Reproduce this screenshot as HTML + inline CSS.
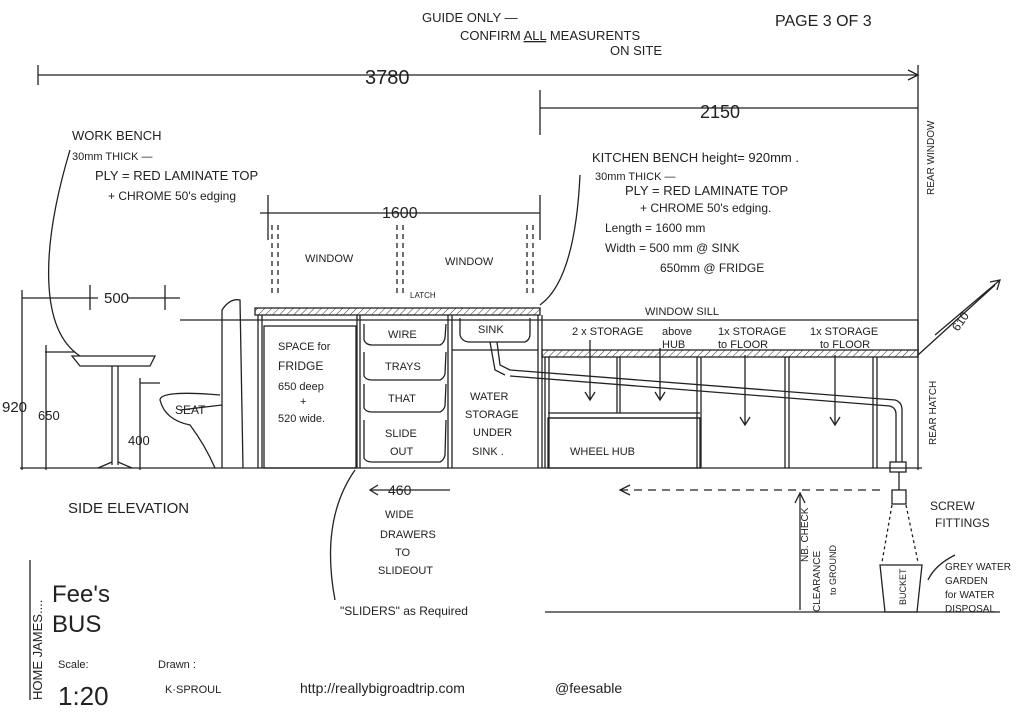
<!DOCTYPE html>
<html><head><meta charset="utf-8"><style>
html,body{margin:0;padding:0;background:#fff}
svg{display:block}
text{font-family:"Liberation Sans",sans-serif;fill:#222}
</style></head><body>
<svg width="1024" height="719" viewBox="0 0 1024 719" xmlns="http://www.w3.org/2000/svg">
<defs>
<pattern id="h" width="5" height="5" patternUnits="userSpaceOnUse" patternTransform="rotate(45)"><line x1="0" y1="0" x2="0" y2="5" stroke="#333" stroke-width="1"/></pattern>
</defs>
<g stroke="#222" stroke-width="1.3" fill="none">
<line x1="38" y1="75" x2="918" y2="75"/>
<path d="M908 70 L918 75 L908 80"/>
<line x1="38" y1="65" x2="38" y2="85"/>
<line x1="540" y1="108" x2="918" y2="108"/>
<line x1="540" y1="90" x2="540" y2="135"/>
<line x1="918" y1="65" x2="918" y2="470"/>
<line x1="260" y1="213" x2="540" y2="213"/>
<line x1="268" y1="195" x2="268" y2="240"/>
<line x1="540" y1="195" x2="540" y2="240"/>
<g stroke-dasharray="5,4"><line x1="272" y1="225" x2="272" y2="295"/><line x1="278" y1="225" x2="278" y2="295"/>
<line x1="397" y1="225" x2="397" y2="295"/><line x1="403" y1="225" x2="403" y2="295"/>
<line x1="527" y1="225" x2="527" y2="295"/><line x1="533" y1="225" x2="533" y2="295"/></g>
<line x1="20" y1="468" x2="922" y2="468"/>
<line x1="22" y1="298" x2="98" y2="298"/>
<line x1="128" y1="298" x2="180" y2="298"/>
<line x1="22" y1="290" x2="22" y2="470"/>
<line x1="45" y1="352" x2="75" y2="352"/>
<line x1="46" y1="345" x2="46" y2="470"/>
<line x1="140" y1="383" x2="160" y2="383"/>
<line x1="140" y1="378" x2="140" y2="470"/>
<line x1="90" y1="285" x2="90" y2="310"/><line x1="165" y1="285" x2="165" y2="310"/>
<path d="M70 150 C40 250 40 330 80 356"/>
<path d="M72 356 L155 356 L150 366 L80 366 Z"/>
<line x1="112" y1="366" x2="112" y2="465"/><line x1="118" y1="366" x2="118" y2="465"/>
<path d="M98 468 L112 462 M132 468 L118 462"/>
<path d="M222 468 L222 310 Q230 298 240 300 L243 468"/>
<path d="M220 395 Q160 390 160 400 Q165 420 190 425 Q205 445 215 468"/>
<line x1="180" y1="410" x2="222" y2="405"/>
<rect x="255" y="308" width="285" height="7" fill="url(#h)"/>
<line x1="180" y1="320" x2="918" y2="320"/>
<line x1="258" y1="315" x2="258" y2="468"/><line x1="262" y1="315" x2="262" y2="468"/>
<rect x="264" y="326" width="92" height="142"/>
<line x1="357" y1="315" x2="357" y2="468"/><line x1="360" y1="315" x2="360" y2="468"/>
<path d="M364 324 L364 340 Q366 345 372 345 L440 345 Q444 343 445 338 L446 324"/>
<path d="M364 352 L364 376 Q366 380 372 380 L440 380 Q444 378 445 374 L446 352"/>
<path d="M364 384 L364 408 Q366 412 372 412 L440 412 Q444 410 445 406 L446 384"/>
<path d="M364 420 L364 458 Q366 462 372 462 L440 462 Q444 460 445 455 L446 420"/>
<line x1="448" y1="315" x2="448" y2="468"/><line x1="452" y1="315" x2="452" y2="468"/>
<path d="M460 318 L460 335 Q462 342 470 342 L525 342 Q530 340 530 334 L530 318"/>
<line x1="452" y1="350" x2="538" y2="350"/>
<path d="M490 342 L495 370 L505 375 M497 342 L500 365 L510 370"/>
<line x1="538" y1="315" x2="538" y2="468"/><line x1="542" y1="315" x2="542" y2="468"/>
<rect x="542" y="350" width="376" height="7" fill="url(#h)"/>
<line x1="545" y1="357" x2="545" y2="468"/><line x1="549" y1="357" x2="549" y2="468"/>
<line x1="548" y1="413" x2="700" y2="413"/><line x1="548" y1="418" x2="700" y2="418"/>
<rect x="548" y="418" width="152" height="50"/>
<line x1="617" y1="357" x2="617" y2="413"/><line x1="620" y1="357" x2="620" y2="413"/>
<line x1="697" y1="357" x2="697" y2="468"/><line x1="701" y1="357" x2="701" y2="468"/>
<line x1="785" y1="357" x2="785" y2="468"/><line x1="789" y1="357" x2="789" y2="468"/>
<line x1="873" y1="357" x2="873" y2="468"/><line x1="877" y1="357" x2="877" y2="468"/>
<path d="M510 370 L895 400 Q902 402 902 410 L902 462 M510 376 L890 406 Q896 408 896 414 L896 462"/>
<rect x="890" y="462" width="16" height="10"/>
<rect x="892" y="490" width="14" height="14"/>
<line x1="899" y1="472" x2="899" y2="490"/>
<path d="M590 340 L590 400 M585 392 L590 400 L595 392"/>
<path d="M660 348 L660 400 M655 392 L660 400 L665 392"/>
<path d="M745 355 L745 425 M740 417 L745 425 L750 417"/>
<path d="M835 355 L835 425 M830 417 L835 425 L840 417"/>
<line x1="918" y1="355" x2="995" y2="285"/>
<line x1="918" y1="320" x2="918" y2="355"/>
<path d="M935 335 L1000 280 M990 282 L1000 280 L997 290"/>
<line x1="620" y1="490" x2="880" y2="490" stroke-dasharray="8,6"/>
<path d="M630 485 L620 490 L630 495"/>
<line x1="800" y1="495" x2="800" y2="610"/>
<path d="M795 503 L800 493 L805 503"/>
<line x1="545" y1="612" x2="1000" y2="612"/>
<path d="M880 565 L922 565 L917 612 L885 612 Z"/>
<path d="M892 505 L882 562 M906 505 L918 562" stroke-dasharray="3,3"/>
<path d="M580 175 Q575 280 540 305"/>
<path d="M955 555 Q935 565 928 580"/>
<path d="M355 470 Q320 520 335 600"/>
<line x1="370" y1="490" x2="450" y2="490"/>
<path d="M378 485 L370 490 L378 495"/>
<line x1="30" y1="560" x2="30" y2="700"/>
</g>
<g font-size="13">
<text x="422" y="22">GUIDE ONLY —</text>
<text x="460" y="40">CONFIRM <tspan text-decoration="underline">ALL</tspan> MEASURENTS</text>
<text x="610" y="55">ON SITE</text>
<text x="775" y="26" font-size="16">PAGE 3 OF 3</text>
<text x="365" y="84" font-size="20">3780</text>
<text x="700" y="118" font-size="18">2150</text>
<text x="382" y="218" font-size="16">1600</text>
<text x="72" y="140">WORK BENCH</text>
<text x="72" y="160" font-size="11">30mm THICK —</text>
<text x="95" y="180">PLY = RED LAMINATE TOP</text>
<text x="108" y="200" font-size="12">+ CHROME 50's edging</text>
<text x="592" y="162">KITCHEN BENCH height= 920mm .</text>
<text x="595" y="180" font-size="11">30mm THICK —</text>
<text x="625" y="195">PLY = RED LAMINATE TOP</text>
<text x="640" y="212" font-size="12">+ CHROME 50's edging.</text>
<text x="605" y="232" font-size="12">Length = 1600 mm</text>
<text x="605" y="252" font-size="12">Width = 500 mm @ SINK</text>
<text x="660" y="272" font-size="12">650mm @ FRIDGE</text>
<text x="305" y="262" font-size="11">WINDOW</text>
<text x="445" y="265" font-size="11">WINDOW</text>
<text x="410" y="298" font-size="8">LATCH</text>
<text x="645" y="315" font-size="11">WINDOW SILL</text>
<text x="104" y="303" font-size="15">500</text>
<text x="2" y="412" font-size="15">920</text>
<text x="38" y="420" font-size="13">650</text>
<text x="128" y="445" font-size="13">400</text>
<text x="175" y="414" font-size="12">SEAT</text>
<text x="278" y="350" font-size="11">SPACE for</text>
<text x="278" y="370" font-size="12">FRIDGE</text>
<text x="278" y="390" font-size="11">650 deep</text>
<text x="300" y="405" font-size="11">+</text>
<text x="278" y="422" font-size="11">520 wide.</text>
<text x="388" y="338" font-size="11">WIRE</text>
<text x="385" y="370" font-size="11">TRAYS</text>
<text x="388" y="402" font-size="11">THAT</text>
<text x="385" y="437" font-size="11">SLIDE</text>
<text x="390" y="455" font-size="11">OUT</text>
<text x="478" y="333" font-size="11">SINK</text>
<text x="470" y="400" font-size="11">WATER</text>
<text x="465" y="418" font-size="11">STORAGE</text>
<text x="473" y="436" font-size="11">UNDER</text>
<text x="472" y="455" font-size="11">SINK .</text>
<text x="572" y="335" font-size="11">2 x STORAGE</text>
<text x="662" y="335" font-size="11">above</text>
<text x="662" y="348" font-size="11">HUB</text>
<text x="718" y="335" font-size="11">1x STORAGE</text>
<text x="718" y="348" font-size="11">to FLOOR</text>
<text x="810" y="335" font-size="11">1x STORAGE</text>
<text x="820" y="348" font-size="11">to FLOOR</text>
<text x="570" y="455" font-size="11">WHEEL HUB</text>
<text x="68" y="513" font-size="15">SIDE ELEVATION</text>
<text x="388" y="495" font-size="14">460</text>
<text x="385" y="518" font-size="11">WIDE</text>
<text x="380" y="538" font-size="11">DRAWERS</text>
<text x="395" y="556" font-size="11">TO</text>
<text x="378" y="574" font-size="11">SLIDEOUT</text>
<text x="340" y="615" font-size="12">"SLIDERS" as Required</text>
<text x="930" y="510" font-size="12">SCREW</text>
<text x="935" y="527" font-size="12">FITTINGS</text>
<text x="945" y="570" font-size="10">GREY WATER</text>
<text x="945" y="584" font-size="10">GARDEN</text>
<text x="945" y="598" font-size="10">for WATER</text>
<text x="945" y="612" font-size="10">DISPOSAL</text>
<text x="0" y="0" font-size="9" transform="translate(906 605) rotate(-90)">BUCKET</text>
<text x="0" y="0" font-size="10" transform="translate(808 562) rotate(-90)">NB. CHECK</text>
<text x="0" y="0" font-size="10" transform="translate(820 612) rotate(-90)">CLEARANCE</text>
<text x="0" y="0" font-size="9" transform="translate(836 595) rotate(-90)">to GROUND</text>
<text x="0" y="0" font-size="10" transform="translate(934 195) rotate(-90)">REAR WINDOW</text>
<text x="0" y="0" font-size="10" transform="translate(936 445) rotate(-90)">REAR HATCH</text>
<text x="0" y="0" font-size="12" transform="translate(958 332) rotate(-55)">610</text>
<text x="0" y="0" font-size="13" transform="translate(42 700) rotate(-90)">HOME JAMES....</text>
<text x="52" y="602" font-size="24">Fee's</text>
<text x="52" y="632" font-size="24">BUS</text>
<text x="58" y="668" font-size="11">Scale:</text>
<text x="58" y="705" font-size="26">1:20</text>
<text x="158" y="668" font-size="11">Drawn :</text>
<text x="165" y="693" font-size="11">K·SPROUL</text>
<text x="300" y="693" font-size="14">http://reallybigroadtrip.com</text>
<text x="555" y="693" font-size="14">@feesable</text>
</g>
</svg>
</body></html>
